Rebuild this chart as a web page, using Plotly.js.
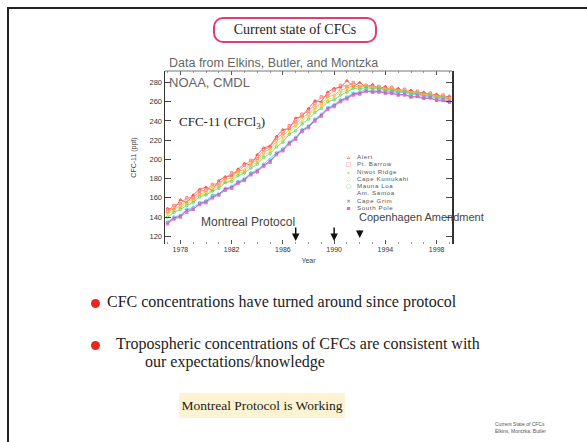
<!DOCTYPE html>
<html>
<head>
<meta charset="utf-8">
<script src="https://cdn.plot.ly/plotly-3.0.1.min.js"></script>
<style>
  body { margin: 0; background: #fff; width: 587px; height: 442px; overflow: hidden; position: relative; }
  .frame { position: absolute; left: 7px; top: 7px; width: 700px; height: 600px;
           border-top: 2px solid #222; border-left: 2px solid #222; }
  .slide-text { position: absolute; font-family: "Liberation Serif", serif; color: #222; white-space: nowrap; }
  #slideTitle { left: 213px; top: 17px; width: 160px; height: 22px; line-height: 22px; text-align: center;
                border: 2px solid #e23c78; border-radius: 10px; font-size: 14px; }
  .dot { position: absolute; width: 9px; height: 9px; border-radius: 50%; background: #e8281e; }
  .bullet { font-size: 16px; }
  #verdict { left: 179px; top: 393px; width: 166px; height: 25px; line-height: 25px; text-align: center;
             background: #fbf3d2; font-size: 13.5px; }
  #foot { left: 495px; top: 421px; font-family: "Liberation Sans", sans-serif; font-size: 5px; line-height: 7px; color: #555; }
  #chart { position: absolute; left: 0; top: 0; width: 587px; height: 442px; }
  #legendKeys, #legendNames { position: absolute; top: 153px; line-height: 7.3px; white-space: nowrap; z-index: 2; }
  #legendKeys { left: 345px; font-family: "DejaVu Sans", sans-serif; font-size: 6px; text-align: center; width: 7px; }
  #legendNames { left: 357px; font-family: "Liberation Sans", sans-serif; font-size: 6.2px; letter-spacing: 0.6px; color: #555; }
</style>
</head>
<body>
<div class="frame"></div>
<div id="slideTitle" class="slide-text">Current state of CFCs</div>
<div class="dot" style="left:91px; top:299px;"></div>
<div class="slide-text bullet" style="left:107px; top:293px;">CFC concentrations have turned around since protocol</div>
<div class="dot" style="left:91px; top:341px;"></div>
<div class="slide-text bullet" style="left:116px; top:335px;">Tropospheric concentrations of CFCs are consistent with</div>
<div class="slide-text bullet" style="left:145px; top:353px;">our expectations/knowledge</div>
<div id="verdict" class="slide-text">Montreal Protocol is Working</div>
<div id="foot" class="slide-text">Current State of CFCs<br>Elkins, Montzka, Butler</div>
<div id="chart"></div>
<div id="legendKeys"></div>
<div id="legendNames"></div>

<script>
// CFC-11 (ppt), NOAA/CMDL flask network, every half year
const years = [1977.0, 1977.5, 1978.0, 1978.5, 1979.0, 1979.5, 1980.0, 1980.5, 1981.0, 1981.5,
               1982.0, 1982.5, 1983.0, 1983.5, 1984.0, 1984.5, 1985.0, 1985.5, 1986.0, 1986.5,
               1987.0, 1987.5, 1988.0, 1988.5, 1989.0, 1989.5, 1990.0, 1990.5, 1991.0, 1991.5,
               1992.0, 1992.5, 1993.0, 1993.5, 1994.0, 1994.5, 1995.0, 1995.5, 1996.0, 1996.5,
               1997.0, 1997.5, 1998.0, 1998.5, 1999.0];

const stations = ['Alert', 'Pt. Barrow', 'Niwot Ridge', 'Cape Kumukahi', 'Mauna Loa', 'Am. Samoa', 'Cape Grim', 'South Pole'];

const alert = [149, 148, 158, 155, 163, 169, 171, 168, 178, 182, 183, 190, 196, 194, 205, 212, 214, 224, 231, 232,
               243, 245, 253, 261, 260, 270, 274, 275, 282, 276, 280, 275, 278, 273, 276, 271, 274, 270, 272, 268,
               270, 266, 268, 264, 266];
const barrow = [146, 152, 154, 160, 160, 167, 168, 174, 175, 181, 186, 187, 194, 199, 201, 210, 213, 222, 227, 235,
                239, 247, 250, 258, 265, 266, 272, 277, 276, 280, 276, 277, 275, 276, 273, 275, 271, 273, 269, 271,
                268, 269, 266, 267, 264];
const niwot = [143, 147, 150, 154, 157, 163, 164, 169, 172, 176, 179, 185, 187, 194, 197, 204, 209, 216, 221, 228,
               234, 240, 245, 252, 256, 262, 265, 270, 272, 275, 275, 276, 274, 275, 273, 273, 271, 272, 269, 269,
               267, 268, 265, 265, 263];
const kumukahi = [145, 149, 151, 157, 158, 164, 166, 172, 173, 179, 181, 188, 189, 196, 199, 207, 211, 219, 224, 231,
                  236, 244, 247, 254, 258, 265, 267, 272, 274, 277, 275, 277, 274, 275, 272, 274, 270, 272, 269, 270,
                  267, 268, 265, 266, 263];
const maunaLoa = [140, 145, 148, 152, 155, 161, 163, 167, 170, 176, 177, 183, 186, 191, 195, 202, 206, 213, 218, 226,
                  230, 237, 242, 249, 253, 260, 262, 267, 270, 274, 273, 275, 273, 274, 272, 272, 270, 271, 268, 269,
                  266, 267, 264, 265, 262];
const samoa = [135, 140, 142, 148, 150, 155, 157, 163, 164, 170, 172, 177, 180, 186, 189, 195, 200, 207, 211, 218,
               223, 231, 235, 242, 247, 254, 257, 262, 265, 269, 270, 273, 271, 272, 270, 271, 269, 270, 267, 268,
               265, 266, 263, 264, 261];
const capeGrim = [134, 139, 141, 147, 148, 154, 156, 161, 164, 169, 171, 176, 179, 185, 188, 194, 198, 206, 210, 217,
                  222, 230, 234, 241, 246, 253, 256, 261, 264, 268, 269, 271, 270, 271, 269, 269, 267, 268, 265, 265,
                  263, 264, 261, 261, 259];
const southPole = [133, 138, 140, 145, 148, 153, 155, 160, 163, 168, 170, 175, 178, 184, 187, 193, 197, 205, 209, 216,
                   221, 229, 233, 240, 245, 252, 255, 260, 263, 267, 268, 271, 270, 270, 269, 269, 267, 267, 265, 266,
                   264, 264, 262, 262, 260];

const seriesValues = [alert, barrow, niwot, kumukahi, maunaLoa, samoa, capeGrim, southPole];
const colors = ['#f2362e', '#ff7070', '#e8de40', '#f5aa40', '#5ccf5c', '#52d2e4', '#7052cc', '#e066c4'];
const symbols = ['triangle-up-open', 'square-open', 'triangle-up', 'diamond-open', 'circle-open', 'circle', 'x-thin-open', 'square'];
const legendGlyphs = ['\u25B5', '\u25A1', '\u25B4', '\u25C7', '\u25CB', '', '\u00D7', '\u25AA'];

const xTickStart = 1978;
const xTickStep = 4;
const yTickStep = 20;

// arrows for the treaty milestones
const milestones = [1987, 1990, 1992];

// plot box in page pixels
const box = { l: 165, r: 452, t: 71, b: 244 };
const pageW = 587, pageH = 442;
const py = p => 1 - (p - box.t) / (box.b - box.t);
const px = p => (p - box.l) / (box.r - box.l);

const traces = seriesValues.map((vals, i) => ({
    x: years,
    y: vals,
    type: 'scatter',
    mode: 'lines+markers',
    name: stations[i],
    line: { color: colors[i], width: 0.9 },
    marker: { color: colors[i], size: 2.5, symbol: symbols[i], line: { color: colors[i], width: 1 } },
    opacity: 0.85,
    hoverinfo: 'skip',
    showlegend: false
}));

const sans = 'Liberation Sans, Arial, sans-serif';
const annotations = [
    { text: 'Data from Elkins, Butler, and Montzka', xref: 'paper', yref: 'paper', x: px(167), y: 1, xanchor: 'left', yanchor: 'bottom',
      yshift: -1, showarrow: false, font: { family: sans, size: 12.5, color: '#666' } },
    { text: 'NOAA, CMDL', xref: 'paper', yref: 'paper', x: px(167), y: py(82), xanchor: 'left', yanchor: 'middle',
      showarrow: false, font: { family: sans, size: 13, color: '#666' } },
    { text: 'CFC-11 (CFCl<sub>3</sub>)', xref: 'paper', yref: 'paper', x: px(177), y: py(122), xanchor: 'left', yanchor: 'middle',
      showarrow: false, font: { family: 'Liberation Serif, serif', size: 13, color: '#222' } },
    { text: 'Montreal Protocol', xref: 'paper', yref: 'paper', x: px(297), y: py(222), xanchor: 'right', yanchor: 'middle',
      showarrow: false, font: { family: sans, size: 12, color: '#444' } },
    { text: 'Copenhagen Amendment', xref: 'paper', yref: 'paper', x: px(357), y: py(217), xanchor: 'left', yanchor: 'middle',
      showarrow: false, font: { family: sans, size: 11, color: '#444' } }
];

milestones.forEach((yr, i) => {
    annotations.push({
        text: '', x: yr, xref: 'x', yref: 'paper', y: py(i === 2 ? 238 : 241),
        showarrow: true, arrowhead: 2, arrowsize: 1, arrowwidth: 1.5, arrowcolor: '#111',
        ax: 0, ay: i === 2 ? -9 : -15
    });
});

// compact legend as plain text blocks: plotly legend rows are too tall for 7px spacing
document.getElementById('legendKeys').innerHTML =
    legendGlyphs.map((g, i) => `<span style="color:${colors[i]}">${g || '&nbsp;'}</span>`).join('<br>');
document.getElementById('legendNames').innerHTML = stations.join('<br>');

const layout = {
    width: pageW,
    height: pageH,
    autosize: false,
    margin: { l: box.l, r: pageW - box.r, t: box.t, b: pageH - box.b, pad: 0 },
    paper_bgcolor: 'rgba(0,0,0,0)',
    plot_bgcolor: 'rgba(0,0,0,0)',
    showlegend: false,
    xaxis: {
        range: [1976.8, 1999.2],
        tick0: xTickStart, dtick: xTickStep,
        ticks: 'inside', ticklen: 4, tickcolor: '#555', mirror: 'ticks',
        minor: { dtick: 1, ticks: 'inside', ticklen: 2, tickcolor: '#999' },
        showline: false, showgrid: false, zeroline: false,
        tickfont: { family: sans, size: 7, color: '#333' },
        title: { text: 'Year', font: { family: sans, size: 7, color: '#444' }, standoff: 6 },
        automargin: false
    },
    yaxis: {
        range: [112, 292],
        tick0: 120, dtick: yTickStep,
        ticks: 'inside', ticklen: 6, tickcolor: '#444', mirror: 'ticks',
        showline: true, linecolor: '#333', linewidth: 1.5,
        showgrid: false, zeroline: false,
        tickfont: { family: sans, size: 7.5, color: '#333' },
        title: { text: 'CFC-11 (ppt)', font: { family: sans, size: 7, color: '#444' }, standoff: 12 },
        automargin: false
    },
    shapes: [
        { type: 'line', xref: 'paper', yref: 'paper', x0: 0, x1: 1, y0: 1, y1: 1, line: { color: '#777', width: 1 } }
    ],
    annotations: annotations
};

Plotly.newPlot('chart', traces, layout, { displayModeBar: false, staticPlot: true });
</script>
</body>
</html>
